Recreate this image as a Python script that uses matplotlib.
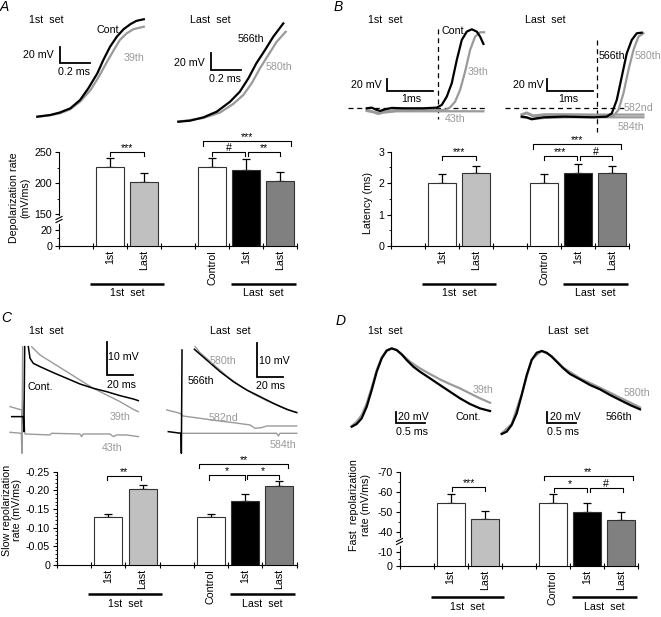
import numpy as np
import matplotlib
matplotlib.use('Agg')
import matplotlib.pyplot as plt
import matplotlib.transforms as mtrans
from matplotlib.lines import Line2D

plt.rcParams['font.family'] = ['Liberation Sans', 'DejaVu Sans']
plt.rcParams['axes.unicode_minus'] = False

nan = np.nan

# ---------------- bar data ----------------
bar_pos = [1, 2, 4, 5, 6]
bar_labels = ['1st', 'Last', 'Control', '1st', 'Last']
bar_colors = ['white', '#c0c0c0', 'white', 'black', '#808080']
group_labels = ['1st  set', 'Last  set']

depol_mean = [226, 201, 226, 221.5, 203.5]
depol_sem = [14.5, 14.5, 14.5, 16.5, 14.5]
lat_mean = [2.02, 2.31, 2.02, 2.33, 2.31]
lat_sem = [0.26, 0.25, 0.26, 0.27, 0.25]
slow_mean = [-0.128, -0.203, -0.128, -0.172, -0.211]
slow_sem = [0.008, 0.011, 0.008, 0.018, 0.014]
fast_mean = [-54.2, -46.2, -54.2, -49.9, -45.7]
fast_sem = [4.7, 4.1, 4.7, 4.6, 4.0]

# ---------------- trace data (ms, mV) ----------------
# A: depolarizing phase
A1_t_cont = [0, 0.085, 0.15, 0.22, 0.285, 0.34, 0.40, 0.44, 0.485, 0.53, 0.575, 0.62, 0.66, 0.71]
A1_v_cont = [-60, -58, -55, -50, -40, -26, -8, 8, 24, 36, 45, 51, 55, 57]
A1_t_39 = [0, 0.085, 0.15, 0.22, 0.285, 0.355, 0.41, 0.465, 0.51, 0.55, 0.595, 0.64, 0.71]
A1_v_39 = [-60, -58.3, -56, -51, -42, -28, -12, 6, 20, 32, 40, 45, 48]
A2_t_566 = [0, 0.078, 0.167, 0.256, 0.345, 0.41, 0.467, 0.52, 0.578, 0.633, 0.70]
A2_v_566 = [-60, -58.8, -54.8, -48, -36, -24, -8, 10, 26, 42, 58]
A2_t_580 = [0, 0.167, 0.278, 0.367, 0.433, 0.489, 0.544, 0.6, 0.656, 0.716]
A2_v_580 = [-60, -55.6, -49, -38.6, -28, -14, 4, 20, 36, 48]

# B: latency
B1_t_cont = [0, 0.107, 0.214, 0.286, 0.393, 0.536, 0.786, 1.214, 1.5, 1.607, 1.714, 1.821, 1.929,
             2.036, 2.143, 2.25, 2.357, 2.429, 2.5]
B1_v_cont = [-60, -58.9, -62.8, -64.4, -61.7, -59.4, -60, -60, -58.9, -54.4, -40.6, -18.3, 20.6,
             53.9, 67.8, 71.7, 67.8, 59.4, 47.2]
B1_t_39 = [0, 0.143, 0.25, 0.357, 0.643, 1.357, 1.679, 1.786, 1.893, 2.0, 2.107, 2.214, 2.321, 2.429, 2.514]
B1_v_39 = [-62.8, -65.6, -68.3, -65.6, -62.8, -62.8, -62.8, -58.3, -48.9, -29.4, 1.1, 37.2, 59.4, 66.7, 66.7]
B1_t_43 = [0, 0.143, 0.25, 0.357, 0.643, 1.357, 2.5]
B1_v_43 = [-64.4, -66.7, -69.4, -67.2, -65, -65, -65]
B2_t_566 = [0, 0.107, 0.214, 0.321, 0.464, 0.893, 1.536, 1.821, 1.929, 2.036, 2.143, 2.25, 2.357, 2.464, 2.571]
B2_v_566 = [-73.9, -75, -78.3, -76.7, -75, -73.9, -75, -73.9, -68.3, -46.1, -7.2, 31.7, 53.9, 65, 66.1]
B2_t_580 = [0, 0.107, 0.25, 0.464, 0.893, 1.607, 1.964, 2.071, 2.179, 2.286, 2.393, 2.5, 2.607]
B2_v_580 = [-71.1, -68.3, -73.9, -71.1, -71.1, -72.8, -72.8, -62.8, -35, 3.9, 37.2, 59.4, 65]
B2_t_582 = [0, 0.107, 0.25, 0.5, 1.0, 1.6, 2.0, 2.607]
B2_v_582 = [-70, -67, -72, -70, -70, -70.5, -70.5, -70.5]
B2_t_584 = [0, 0.107, 0.25, 0.5, 1.0, 1.6, 2.0, 2.607]
B2_v_584 = [-75, -76, -78, -76, -75, -75, -75, -75]
B_threshold = -60
B1_onset = 1.52
B2_onset = 1.607

# C: slow repolarization (mV relative to baseline)
C1_t_cont = [-9.7, -0.8, -0.3, 0.3, nan, 3.1, 4.4, 6.9, 12.1, 22.3, 32.6, 42.8, 53.1, 63.3, 73.6, 83.8, 87.7]
C1_v_cont = [5, 5, 0.5, 26, nan, 26, 22.5, 21, 20, 18.2, 16.5, 14.8, 13.5, 12.5, 11.3, 10.3, 9.8]
C1_t_39 = [-11, -2, -1.8, -1.3, nan, 5.6, 12.05, 22.3, 32.6, 42.8, 53.1, 63.3, 73.6, 83.8, 87.7]
C1_v_39 = [8, 7, -5, 26, nan, 26, 23.5, 21, 18.5, 16, 13.5, 11.5, 9.5, 7.2, 6.5]
C1_t_43 = [-11, -2.3, -1.8, -1.3, 0.5, 19.7, 21, 42.8, 44.1, 45.4, 65.9, 68.5, 71, 78.7, 87.7]
C1_v_43 = [0.3, 0, -6, 10, -0.2, -0.5, 0, -0.2, -1, -0.2, -0.2, -1, -0.5, -0.5, -1]
C2_t_566 = [-10.3, -0.5, -0.26, 0.26, nan, 9.74, 19.2, 29.5, 39.7, 50, 60.3, 70.5, 80.8, 88.5]
C2_v_566 = [0.5, 0, -6, 25, nan, 25.2, 22, 18.5, 15.5, 13, 11, 9, 7.2, 6.2]
C2_t_580 = [10.3, 14.1, 24.4, 34.6, 44.9, 55.1, 65.4, 75.6, 85.9, 88.5]
C2_v_580 = [26, 24.2, 20.7, 17.2, 14.2, 11.8, 9.8, 8, 6.5, 6.3]
C2_t_582 = [-11.5, -1.3, 0.8, 14.1, 26.9, 39.7, 52.6, 56.4, 61.5, 65.4, 88.5]
C2_v_582 = [7, 6, 5.2, 4.5, 3.8, 3.2, 2.5, 1.5, 1.7, 2.2, 2.2]
C2_t_584 = [0.8, 73.1, 74.4, 75.6, 88.5]
C2_v_584 = [0, 0, -0.8, 0, 0]

# D: fast repolarization
D1_t_cont = [0, 0.086, 0.172, 0.259, 0.345, 0.431, 0.517, 0.603, 0.69, 0.776, 0.862, 0.948, 1.063,
             1.178, 1.351, 1.523, 1.695, 1.868, 2.04, 2.213, 2.385]
D1_v_cont = [-60, -55.4, -45.7, -25.7, 2.9, 34.3, 57.1, 70.3, 74.3, 71.4, 64, 54.3, 42.9,
             34.3, 22.9, 11.4, 0, -11.4, -21.1, -28.6, -33.1]
D1_t_39 = [0, 0.086, 0.172, 0.259, 0.345, 0.431, 0.517, 0.603, 0.69, 0.776, 0.862, 1.006, 1.178,
           1.351, 1.523, 1.695, 1.868, 2.04, 2.213, 2.385]
D1_v_39 = [-58.9, -51.4, -40, -20, 7.4, 37.1, 58.9, 71.4, 74.3, 71.4, 64.6, 51.4, 40,
           30.3, 21.1, 13.1, 5.7, -2.9, -11.4, -18.9]
D2_t_566 = [0, 0.086, 0.172, 0.259, 0.345, 0.431, 0.517, 0.603, 0.69, 0.776, 0.862, 0.948, 1.063,
            1.178, 1.351, 1.523, 1.695, 1.868, 2.04, 2.213, 2.385]
D2_v_566 = [-60, -56, -44.6, -24.6, 6.9, 41.1, 66.9, 79.4, 82.3, 79.4, 72.6, 64, 52.6,
            42.9, 33.7, 24, 16.6, 6.9, -1.7, -10.3, -17.7]
D2_t_580 = [0, 0.172, 0.345, 0.517, 0.69, 0.862, 1.063, 1.351, 1.695, 2.04, 2.385]
D2_v_580 = [-58.9, -42.9, 8.6, 68, 82.9, 73.7, 53.7, 35.4, 19.4, 2.3, -14.3]

# ---------------- figure ----------------
W, H = 661, 617
FS = 7.7
GRAY = '#9a9a9a'
fig = plt.figure(figsize=(W / 100, H / 100), dpi=100)


def fx(px):
    return px / W


def fy(py):
    return 1 - py / H


def ftext(px, py, s, **kw):
    kw.setdefault('fontsize', FS)
    kw.setdefault('va', 'center')
    fig.text(fx(px), fy(py), s, **kw)


def trace_axes(ox, oy, sx, sy, vref):
    ax = fig.add_axes([0, 0, 1, 1])
    ax.set_xlim(-ox / sx, (W - ox) / sx)
    ax.set_ylim(vref - (H - oy) / sy, vref + oy / sy)
    ax.set_axis_off()

    def to_data(px, py):
        return (px - ox) / sx, vref + (oy - py) / sy
    return ax, to_data


def scalebar(ax, to_data, px, py, dt, dv, lw=1.3):
    t0, v0 = to_data(px, py)
    ax.plot([t0, t0, t0 + dt], [v0 + dv, v0, v0], color='black', lw=lw,
            solid_joinstyle='miter')


def bar_axes(left, right, top, bottom, mean, sem, scale=None):
    ax = fig.add_axes([left / W, 1 - bottom / H, (right - left) / W, (bottom - top) / H])
    if scale is not None:
        ax.set_yscale('function', functions=scale)
    zeros = [0] * len(mean)
    yerr = [sem, zeros] if mean[0] < 0 else [zeros, sem]
    ax.errorbar(bar_pos, mean, yerr=yerr, fmt='none', ecolor='black', elinewidth=0.9,
                capsize=2.8, capthick=0.9, zorder=2)
    ax.bar(bar_pos, mean, width=0.82, color=bar_colors, edgecolor='#333333',
           linewidth=0.8, zorder=3)
    ax.set_xlim(-0.5, 6.5)
    for s in ('top', 'right'):
        ax.spines[s].set_visible(False)
    for s in ('left', 'bottom'):
        ax.spines[s].set_linewidth(0.8)
    ax.set_xticks(bar_pos, bar_labels, rotation=90, fontsize=FS)
    ax.set_xticks(np.arange(-0.5, 7, 1.0), minor=True)
    ax.tick_params(axis='x', which='major', length=0, pad=3)
    ax.tick_params(axis='x', which='minor', direction='inout', length=4, width=0.8)
    ax.tick_params(axis='y', which='major', direction='out', length=3, width=0.8,
                   labelsize=FS, pad=2)
    ax.tick_params(axis='y', which='minor', direction='out', length=1.8, width=0.6)
    ax.patch.set_alpha(0)
    return ax


def bracket(ax, x1, x2, py, drop, txt):
    tr = mtrans.blended_transform_factory(ax.transData, fig.transFigure)
    ax.plot([x1, x1, x2, x2], [fy(py + drop), fy(py), fy(py), fy(py + drop)],
            transform=tr, color='black', lw=0.8, clip_on=False)
    ax.text((x1 + x2) / 2, fy(py - 0.8), txt, transform=tr, ha='center', va='baseline',
            fontsize=FS)


def groups(ax, py_line, py_text):
    tr = mtrans.blended_transform_factory(ax.transData, fig.transFigure)
    for (x1, x2), txt in zip([(0.42, 2.58), (4.57, 6.46)], group_labels):
        ax.plot([x1, x2], [fy(py_line)] * 2, transform=tr, color='black', lw=1.8,
                clip_on=False, solid_capstyle='butt')
        ax.text((x1 + x2) / 2, fy(py_text), txt, transform=tr, ha='center', va='center',
                fontsize=FS)


def break_mark(px, py):
    fig.add_artist(Line2D([fx(px), fx(px)], [fy(py - 1), fy(py + 4)], color='white', lw=2))
    for d in (0, 3):
        fig.add_artist(Line2D([fx(px - 3), fx(px + 3)], [fy(py + d + 1.5), fy(py + d - 1.5)],
                              color='black', lw=0.8))


# ======================= Panel A =======================
ftext(4, 7, 'A', fontsize=10, style='italic', ha='center')
ax, td = trace_axes(37.3, 116.7, 150, 0.833, -60)
ax.plot(A1_t_39, A1_v_39, color=GRAY, lw=1.6)
ax.plot(A1_t_cont, A1_v_cont, color='black', lw=1.6)
scalebar(ax, td, 60, 63.3, 0.2, 20)
ax, td = trace_axes(178.3, 121.7, 150, 0.833, -60)
ax.plot(A2_t_580, A2_v_580, color=GRAY, lw=1.6)
ax.plot(A2_t_566, A2_v_566, color='black', lw=1.6)
scalebar(ax, td, 210.7, 70, 0.2, 20)
ftext(46.7, 20, '1st  set', ha='center')
ftext(96.7, 30, 'Cont.', ha='left')
ftext(124, 58.3, '39th', ha='left', color=GRAY)
ftext(53.3, 55, '20 mV', ha='right')
ftext(74, 71.7, '0.2 ms', ha='center')
ftext(210, 20, 'Last  set', ha='center')
ftext(237.3, 39.3, '566th', ha='left')
ftext(265.7, 67.3, '580th', ha='left', color=GRAY)
ftext(205, 63.3, '20 mV', ha='right')
ftext(225, 79, '0.2 ms', ha='center')

xpA = [-1e4, 0, 20, 150, 250, 1e4]
ypA = [-8000, 0, 16, 32, 94, 94 + (1e4 - 250) * 0.62]
axA = bar_axes(59, 297, 152, 246, depol_mean, depol_sem,
               scale=(lambda v: np.interp(v, xpA, ypA), lambda y: np.interp(y, ypA, xpA)))
axA.set_ylim(0, 250)
axA.set_yticks([0, 20, 150, 200, 250])
axA.set_yticks([10, 175, 225], minor=True)
bracket(axA, 1, 2, 152, 4, '***')
bracket(axA, 3.74, 6.32, 141, 5, '***')
bracket(axA, 4, 4.97, 152, 4, '#')
bracket(axA, 5.06, 6, 152, 4, '**')
groups(axA, 284, 293.5)
break_mark(59, 218)
ftext(20, 198, 'Depolarization rate\n(mV/ms)', ha='center', rotation=90, ma='center',
      linespacing=1.2)

# ======================= Panel B =======================
ftext(338, 7, 'B', fontsize=10, style='italic', ha='center')
ax, td = trace_axes(366.7, 108.3, 46.7, 0.6, -60)
ax.plot([-0.39, 2.54], [B_threshold, B_threshold], color='black', lw=0.9, ls=(0, (4, 3)))
ax.plot([B1_onset, B1_onset], [73, -77], color='black', lw=0.9, ls=(0, (4, 3)))
ax.plot(B1_t_43, B1_v_43, color=GRAY, lw=1.6)
ax.plot(B1_t_39, B1_v_39, color=GRAY, lw=1.6)
ax.plot(B1_t_cont, B1_v_cont, color='black', lw=1.6)
scalebar(ax, td, 386.7, 91, 1, 20)
ax, td = trace_axes(521.7, 108.3, 46.7, 0.6, -60)
ax.plot([-0.36, 2.18], [B_threshold, B_threshold], color='black', lw=0.9, ls=(0, (4, 3)))
ax.plot([B2_onset, B2_onset], [54, -99], color='black', lw=0.9, ls=(0, (4, 3)))
ax.plot(B2_t_584, B2_v_584, color=GRAY, lw=1.6)
ax.plot(B2_t_582, B2_v_582, color=GRAY, lw=1.6)
ax.plot(B2_t_580, B2_v_580, color=GRAY, lw=1.6)
ax.plot(B2_t_566, B2_v_566, color='black', lw=1.6)
scalebar(ax, td, 546.7, 91, 1, 20)
ftext(385, 20, '1st  set', ha='center')
ftext(441.7, 30.7, 'Cont.', ha='left')
ftext(467.7, 71.7, '39th', ha='left', color=GRAY)
ftext(445, 119.3, '43th', ha='left', color=GRAY)
ftext(381.7, 85, '20 mV', ha='right')
ftext(411.7, 99, '1ms', ha='center')
ftext(545, 20, 'Last  set', ha='center')
ftext(598.3, 56, '566th', ha='left')
ftext(635, 56, '580th', ha='left', color=GRAY)
ftext(624, 108.3, '582nd', ha='left', color=GRAY)
ftext(617.3, 126.7, '584th', ha='left', color=GRAY)
ftext(543.3, 85, '20 mV', ha='right')
ftext(568.3, 99, '1ms', ha='center')

axB = bar_axes(391, 629, 151.7, 246, lat_mean, lat_sem)
axB.set_ylim(0, 3)
axB.set_yticks([0, 1, 2, 3])
axB.set_yticks([0.5, 1.5, 2.5], minor=True)
bracket(axB, 1, 2, 156, 4, '***')
bracket(axB, 3.68, 6.26, 144, 5, '***')
bracket(axB, 4, 4.97, 155.7, 4, '***')
bracket(axB, 5.06, 6, 155.7, 4, '#')
groups(axB, 284, 293.5)
ftext(368.3, 203, 'Latency (ms)', ha='center', rotation=90)

# ======================= Panel C =======================
ftext(6, 318, 'C', fontsize=10, style='italic', ha='center')
ax, td = trace_axes(24.3, 433.3, 1.3, 3.333, 0)
ax.plot(C1_t_43, C1_v_43, color=GRAY, lw=1.0)
ax.plot(C1_t_39, C1_v_39, color=GRAY, lw=1.0)
ax.plot(C1_t_cont, C1_v_cont, color='black', lw=1.1)
scalebar(ax, td, 106.7, 375, 20, 10)
ax, td = trace_axes(181.7, 433.3, 1.3, 3.333, 0)
ax.plot(C2_t_584, C2_v_584, color=GRAY, lw=1.0)
ax.plot(C2_t_582, C2_v_582, color=GRAY, lw=1.0)
ax.plot(C2_t_580, C2_v_580, color=GRAY, lw=1.0)
ax.plot(C2_t_566, C2_v_566, color='black', lw=1.1)
scalebar(ax, td, 257.3, 376.7, 20, 10)
ftext(46.7, 330.7, '1st  set', ha='center')
ftext(27.3, 387.3, 'Cont.', ha='left')
ftext(110, 416.7, '39th', ha='left', color=GRAY)
ftext(101.7, 448.3, '43th', ha='left', color=GRAY)
ftext(108.3, 357.3, '10 mV', ha='left')
ftext(121.7, 385, '20 ms', ha='center')
ftext(230, 330.7, 'Last  set', ha='center')
ftext(210, 361, '580th', ha='left', color=GRAY)
ftext(187.3, 381, '566th', ha='left')
ftext(208.3, 418.3, '582nd', ha='left', color=GRAY)
ftext(269.3, 445, '584th', ha='left', color=GRAY)
ftext(259, 361, '10 mV', ha='left')
ftext(270.7, 386, '20 ms', ha='center')

axC = bar_axes(57, 296.5, 471.7, 565, slow_mean, slow_sem)
axC.set_ylim(0, -0.25)
ticksC = [0, -0.05, -0.10, -0.15, -0.20, -0.25]
axC.set_yticks(ticksC, ['0' if t == 0 else f'{t:.2f}' for t in ticksC])
axC.set_yticks(np.arange(-0.24, 0, 0.01), minor=True)
bracket(axC, 0.95, 1.95, 476, 3.5, '**')
bracket(axC, 3.66, 6.26, 464, 4, '**')
bracket(axC, 3.94, 5.0, 475, 5, '*')
bracket(axC, 5.04, 6.0, 475, 4, '*')
groups(axC, 594, 604)
ftext(12, 510, 'Slow repolarization\nrate (mV/ms)', ha='center', rotation=90, ma='center',
      linespacing=1.05)

# ======================= Panel D =======================
ftext(341, 321, 'D', fontsize=10, style='italic', ha='center')
ax, td = trace_axes(351.7, 426.7, 58, 0.583, -60)
ax.plot(D1_t_39, D1_v_39, color=GRAY, lw=1.6)
ax.plot(D1_t_cont, D1_v_cont, color='black', lw=1.6)
scalebar(ax, td, 396, 423.3, 0.5, 20)
ax, td = trace_axes(501.7, 434, 58, 0.583, -60)
ax.plot(D2_t_580, D2_v_580, color=GRAY, lw=1.6)
ax.plot(D2_t_566, D2_v_566, color='black', lw=1.6)
scalebar(ax, td, 547.3, 423.3, 0.5, 20)
ftext(385, 330.7, '1st  set', ha='center')
ftext(472.7, 390, '39th', ha='left', color=GRAY)
ftext(456, 416.7, 'Cont.', ha='left')
ftext(398.3, 417.3, '20 mV', ha='left')
ftext(411.7, 431.7, '0.5 ms', ha='center')
ftext(568.3, 330.7, 'Last  set', ha='center')
ftext(623.3, 393.3, '580th', ha='left', color=GRAY)
ftext(606, 416.7, '566th', ha='left')
ftext(550, 417.3, '20 mV', ha='left')
ftext(563.3, 431.7, '0.5 ms', ha='center')

upD = [-1e4, 0, 10, 40, 70, 1e4]
gpD = [-1.43e4, 0, 14.3, 34.3, 94.3, 94.3 + (1e4 - 70) * 2]
axD = bar_axes(399.5, 638, 472, 566, fast_mean, fast_sem,
               scale=(lambda v: -np.interp(-np.asarray(v), upD, gpD),
                      lambda y: -np.interp(-np.asarray(y), gpD, upD)))
axD.set_ylim(0, -70)
axD.set_yticks([0, -10, -40, -50, -60, -70])
axD.set_yticks([-5, -45, -55, -65], minor=True)
bracket(axD, 1.04, 2.02, 486.7, 4, '***')
bracket(axD, 3.73, 6.34, 475.7, 4.3, '**')
bracket(axD, 4.02, 5.0, 487.7, 4, '*')
bracket(axD, 5.08, 6.06, 487.7, 4, '#')
groups(axD, 597, 607)
break_mark(399.5, 540)
ftext(360, 505, 'Fast  repolarization\nrate (mV/ms)', ha='center', rotation=90, ma='center',
      linespacing=1.15)

fig.savefig('out.png', dpi=100)
